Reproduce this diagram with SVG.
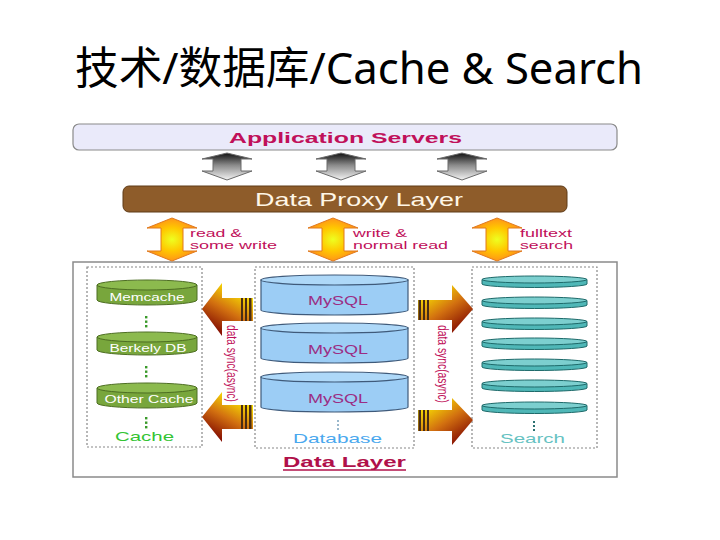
<svg xmlns="http://www.w3.org/2000/svg" width="720" height="540" viewBox="0 0 720 540">
<defs>
<style>
.lbl{font-family:"Liberation Sans",Arial,sans-serif;fill:#c0105a;}
.sm{font-size:10.5px;}
.cyl-t{font-family:"Liberation Sans",Arial,sans-serif;font-size:11px;fill:#ffffff;text-anchor:middle;}
.my{font-family:"Liberation Sans",Arial,sans-serif;font-size:13px;fill:#9b2d84;text-anchor:middle;}
.dot{stroke:#888;stroke-width:1.2;stroke-dasharray:2,2;fill:none;}
.gcyl{fill:#78a63c;stroke:#4d6e22;stroke-width:1;}
.gtop{fill:#8cba4e;stroke:#4d6e22;stroke-width:1;}
.bcyl{fill:#9ccdf5;stroke:#3f5a7a;stroke-width:1.2;}
.btop{fill:#aed8f8;stroke:#3f5a7a;stroke-width:1.2;}
.tcyl{fill:#4fb7b7;stroke:#1e6a6a;stroke-width:1;}
.ttop{fill:#7ccfcf;stroke:#1e6a6a;stroke-width:1;}
.gray{fill:url(#gGray);stroke:#6a6a6a;stroke-width:1;}
.orng{fill:url(#gOrange);stroke:#e07a1e;stroke-width:1;}
.syncL{fill:url(#gSyncL);}
.syncR{fill:url(#gSyncR);}
.strip{fill:#4a2c14;}
.sync{font-family:"Liberation Sans",Arial,sans-serif;font-size:14px;fill:#c0105a;text-anchor:middle;}
</style>
<linearGradient id="gGray" x1="0" y1="0" x2="0" y2="1">
<stop offset="0" stop-color="#111"/>
<stop offset="0.45" stop-color="#8a8a8a"/>
<stop offset="1" stop-color="#f4f4f4"/>
</linearGradient>
<radialGradient id="gOrange" cx="0.5" cy="0.5" r="0.6">
<stop offset="0" stop-color="#eeff20"/>
<stop offset="0.45" stop-color="#ffc800"/>
<stop offset="1" stop-color="#ff7f20"/>
</radialGradient>
<linearGradient id="gSyncL" x1="0.8" y1="0.1" x2="0.3" y2="1">
<stop offset="0" stop-color="#fff200"/>
<stop offset="0.5" stop-color="#d27010"/>
<stop offset="1" stop-color="#7a0000"/>
</linearGradient>
<linearGradient id="gSyncR" x1="0.1" y1="0.1" x2="0.8" y2="1">
<stop offset="0" stop-color="#fff200"/>
<stop offset="0.5" stop-color="#d27010"/>
<stop offset="1" stop-color="#7a0000"/>
</linearGradient>
</defs>
<rect width="720" height="540" fill="#ffffff"/>

<text id="title" x="75" y="84" font-family="'Noto Sans','Noto Sans CJK SC',sans-serif" font-size="44" fill="#000" textLength="568" lengthAdjust="spacingAndGlyphs">技术/数据库/Cache &amp; Search</text>

<g id="app-servers">
<rect x="73" y="124" width="544" height="26" rx="6" fill="#eaeafa" stroke="#8a8a8a" stroke-width="1.2"/>
<text x="345.5" y="142.5" class="lbl" font-size="15" font-weight="bold" text-anchor="middle" textLength="233" lengthAdjust="spacingAndGlyphs">Application  Servers</text>
</g>

<g id="data-proxy">
<rect x="123" y="186" width="444" height="26" rx="6" fill="#8e5c2a" stroke="#5f3b17" stroke-width="1"/>
<text x="359" y="206" font-family="'Liberation Sans',Arial,sans-serif" font-size="19" fill="#fff6e6" text-anchor="middle" textLength="208" lengthAdjust="spacingAndGlyphs">Data Proxy Layer</text>
</g>

<g id="data-layer">
<rect x="73" y="262" width="544" height="215" fill="#ffffff" stroke="#8a8a8a" stroke-width="1.5"/>
<text x="344.5" y="467" font-family="'Liberation Sans',Arial,sans-serif" font-size="15" font-weight="bold" fill="#b0104a" text-anchor="middle" textLength="123" lengthAdjust="spacingAndGlyphs">Data Layer</text>
<line x1="283" y1="470" x2="406" y2="470" stroke="#b0104a" stroke-width="1.5"/>
</g>

<g id="cache">
<rect x="87" y="267" width="115" height="180" class="dot"/>
<g id="memcache">
<path class="gcyl" d="M97,285 V300 A50,5 0 0 0 197,300 V285 Z"/>
<ellipse class="gtop" cx="147" cy="285" rx="50" ry="5"/>
<text class="cyl-t" x="147" y="301" textLength="75" lengthAdjust="spacingAndGlyphs">Memcache</text>
</g>
<g id="berkely">
<path class="gcyl" d="M97,337 V350 A50,5 0 0 0 197,350 V337 Z"/>
<ellipse class="gtop" cx="147" cy="337" rx="50" ry="5"/>
<text class="cyl-t" x="148" y="352" textLength="77" lengthAdjust="spacingAndGlyphs">Berkely DB</text>
</g>
<g id="othercache">
<path class="gcyl" d="M97,388 V403 A50,5 0 0 0 197,403 V388 Z"/>
<ellipse class="gtop" cx="147" cy="388" rx="50" ry="5"/>
<text class="cyl-t" x="149" y="403" textLength="89" lengthAdjust="spacingAndGlyphs">Other Cache</text>
</g>
<g fill="#3a9a2a">
<rect x="145" y="316" width="2.4" height="2.4"/><rect x="145" y="320.5" width="2.4" height="2.4"/><rect x="145" y="325" width="2.4" height="2.4"/>
<rect x="145" y="366" width="2.4" height="2.4"/><rect x="145" y="370.5" width="2.4" height="2.4"/><rect x="145" y="375" width="2.4" height="2.4"/>
<rect x="145" y="417" width="2.4" height="2.4"/><rect x="145" y="421.5" width="2.4" height="2.4"/><rect x="145" y="426" width="2.4" height="2.4"/>
</g>
<text x="144.5" y="441" font-family="'Liberation Sans',Arial,sans-serif" font-size="13" fill="#33c433" text-anchor="middle" textLength="59" lengthAdjust="spacingAndGlyphs">Cache</text>
</g>

<g id="database">
<rect x="255" y="267" width="159" height="181" class="dot"/>
<g id="mysql1">
<path class="bcyl" d="M261,280 V310 A73.5,5 0 0 0 408,310 V280 Z"/>
<ellipse class="btop" cx="334.5" cy="280" rx="73.5" ry="5"/>
<text class="my" x="338" y="305" textLength="60" lengthAdjust="spacingAndGlyphs">MySQL</text>
</g>
<g id="mysql2">
<path class="bcyl" d="M261,328 V358 A73.5,5 0 0 0 408,358 V328 Z"/>
<ellipse class="btop" cx="334.5" cy="328" rx="73.5" ry="5"/>
<text class="my" x="338" y="354" textLength="60" lengthAdjust="spacingAndGlyphs">MySQL</text>
</g>
<g id="mysql3">
<path class="bcyl" d="M261,377 V407 A73.5,5 0 0 0 408,407 V377 Z"/>
<ellipse class="btop" cx="334.5" cy="377" rx="73.5" ry="5"/>
<text class="my" x="338" y="403" textLength="60" lengthAdjust="spacingAndGlyphs">MySQL</text>
</g>
<g fill="#9ab8cc">
<rect x="337" y="420" width="2" height="2"/><rect x="337" y="424" width="2" height="2"/><rect x="337" y="428" width="2" height="2"/>
</g>
<text x="337.5" y="443" font-family="'Liberation Sans',Arial,sans-serif" font-size="13" fill="#4aa8ee" text-anchor="middle" textLength="89" lengthAdjust="spacingAndGlyphs">Database</text>
</g>

<g id="search">
<rect x="472" y="267" width="125" height="181" class="dot"/>
<g id="disks">
<path class="tcyl" d="M482,279.5 V284 A52.5,3.5 0 0 0 587,284 V279.5 Z"/><ellipse class="ttop" cx="534.5" cy="279.5" rx="52.5" ry="3.5"/>
<path class="tcyl" d="M482,300.5 V305 A52.5,3.5 0 0 0 587,305 V300.5 Z"/><ellipse class="ttop" cx="534.5" cy="300.5" rx="52.5" ry="3.5"/>
<path class="tcyl" d="M482,321.5 V326 A52.5,3.5 0 0 0 587,326 V321.5 Z"/><ellipse class="ttop" cx="534.5" cy="321.5" rx="52.5" ry="3.5"/>
<path class="tcyl" d="M482,341.5 V346 A52.5,3.5 0 0 0 587,346 V341.5 Z"/><ellipse class="ttop" cx="534.5" cy="341.5" rx="52.5" ry="3.5"/>
<path class="tcyl" d="M482,362.5 V367 A52.5,3.5 0 0 0 587,367 V362.5 Z"/><ellipse class="ttop" cx="534.5" cy="362.5" rx="52.5" ry="3.5"/>
<path class="tcyl" d="M482,383.5 V388 A52.5,3.5 0 0 0 587,388 V383.5 Z"/><ellipse class="ttop" cx="534.5" cy="383.5" rx="52.5" ry="3.5"/>
<path class="tcyl" d="M482,405.5 V410 A52.5,3.5 0 0 0 587,410 V405.5 Z"/><ellipse class="ttop" cx="534.5" cy="405.5" rx="52.5" ry="3.5"/>
</g>
<g fill="#2a7070">
<rect x="533" y="421" width="2" height="2"/><rect x="533" y="425" width="2" height="2"/><rect x="533" y="429" width="2" height="2"/>
</g>
<text x="532.5" y="443" font-family="'Liberation Sans',Arial,sans-serif" font-size="13" fill="#66c2c2" text-anchor="middle" textLength="65" lengthAdjust="spacingAndGlyphs">Search</text>
</g>

<g id="connectors">
<g id="gray-arrows">
<polygon class="gray" points="227,153 252,159 241,159 241,171 252,171 227,180 202,171 213,171 213,159 202,159"/>
<polygon class="gray" points="341,153 366,159 355,159 355,171 366,171 341,180 316,171 327,171 327,159 316,159"/>
<polygon class="gray" points="462,153 487,159 476,159 476,171 487,171 462,180 437,171 448,171 448,159 437,159"/>
</g>
<g id="orange-arrows">
<polygon class="orng" points="172,218 197,228 183,228 183,251 197,251 172,261 147,251 161,251 161,228 147,228"/>
<polygon class="orng" points="333,218 358,228 344,228 344,251 358,251 333,261 308,251 322,251 322,228 308,228"/>
<polygon class="orng" points="497,218 522,228 508,228 508,251 522,251 497,261 472,251 486,251 486,228 472,228"/>
<text class="lbl sm" x="190" y="237" textLength="52" lengthAdjust="spacingAndGlyphs">read &amp;</text>
<text class="lbl sm" x="190" y="249" textLength="87" lengthAdjust="spacingAndGlyphs">some write</text>
<text class="lbl sm" x="353" y="237" textLength="54" lengthAdjust="spacingAndGlyphs">write &amp;</text>
<text class="lbl sm" x="353" y="249" textLength="95" lengthAdjust="spacingAndGlyphs">normal read</text>
<text class="lbl sm" x="520" y="237" textLength="52" lengthAdjust="spacingAndGlyphs">fulltext</text>
<text class="lbl sm" x="520" y="249" textLength="53" lengthAdjust="spacingAndGlyphs">search</text>
</g>
<g id="sync-left">
<polygon class="syncL" points="202,309 222,283 222,298 253,298 253,321 222,321 222,336"/>
<polygon class="syncL" points="202,417 222,392 222,405 253,405 253,429 222,429 222,442"/>
<g class="strip">
<rect x="241" y="298" width="2" height="23"/><rect x="245" y="298" width="2" height="23"/><rect x="249" y="298" width="2.5" height="23"/>
<rect x="241" y="405" width="2" height="24"/><rect x="245" y="405" width="2" height="24"/><rect x="249" y="405" width="2.5" height="24"/>
</g>
<text class="sync" transform="translate(232,363.5) rotate(90)" x="0" y="5" textLength="77" lengthAdjust="spacingAndGlyphs">data sync(async)</text>
</g>
<g id="sync-right">
<polygon class="syncR" points="418,300 452,300 452,285 473,309 452,333 452,320 418,320"/>
<polygon class="syncR" points="418,410 452,410 452,398 473,420 452,445 452,431 418,431"/>
<g class="strip">
<rect x="418.5" y="300" width="2.5" height="20"/><rect x="423" y="300" width="2" height="20"/><rect x="427" y="300" width="2" height="20"/>
<rect x="418.5" y="410" width="2.5" height="21"/><rect x="423" y="410" width="2" height="21"/><rect x="427" y="410" width="2" height="21"/>
</g>
<text class="sync" transform="translate(443,364) rotate(90)" x="0" y="5" textLength="78" lengthAdjust="spacingAndGlyphs">data sync(async)</text>
</g>
</g>
</svg>
